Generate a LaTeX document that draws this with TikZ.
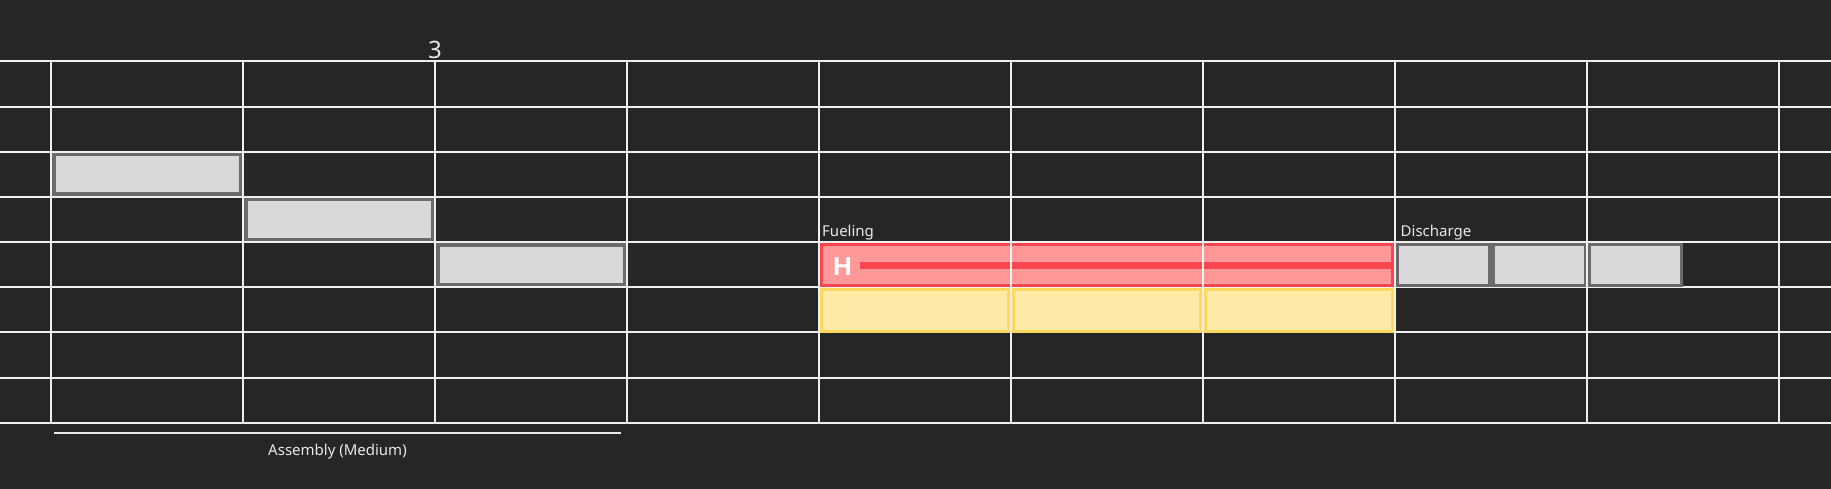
\documentclass[tikz,border=0pt]{standalone}
\usepackage{fontspec}
\setmainfont{Noto Sans}
\newfontfamily\markfont{Liberation Sans}
\usepackage{tikz}
\usetikzlibrary{positioning}
\definecolor{chartbg}{HTML}{262626}
\definecolor{gridwhite}{HTML}{F0F0F0}
\definecolor{blockgray}{HTML}{D9D9D9}
\definecolor{blockedge}{HTML}{6B6B6B}
\definecolor{fuelred}{HTML}{FF9999}
\definecolor{fueledge}{HTML}{F7464E}
\definecolor{coolfill}{HTML}{FFEAA7}
\definecolor{cooledge}{HTML}{FFD95E}
\definecolor{labeltext}{HTML}{E8E8E8}

\begin{document}
\begin{tikzpicture}[x=1pt, y=-1pt,
    gridline/.style={line width=2pt, draw=gridwhite},
    opblock/.style={draw=blockedge, fill=blockgray, line width=3.5pt},
    fuelbar/.style={draw=fueledge, fill=fuelred, line width=3pt},
    coolcell/.style={draw=cooledge, fill=coolfill, line width=3pt},
    phaselabel/.style={font=\fontsize{15}{18}\selectfont, text=labeltext, inner sep=0pt, anchor=base west}
]

\fill[chartbg] (0,0) rectangle (1831,489);
\useasboundingbox (0,0) rectangle (1831,489);

% rows
\foreach \j in {0,...,8}
    \draw[gridline] (0,{61.5+45.15*\j}) -- (1831,{61.5+45.15*\j});

% assembly steps
\foreach \i in {0,1,2}
    \draw[opblock] ({51+192*\i+2.75},{151.8+45.15*\i+2.75}) rectangle ({243+192*\i-2.75},{196.95+45.15*\i-2.75});

% fueling bar
\draw[fuelbar] (821.1,244.2) rectangle (1392.4,285.8);
\draw[line width=7pt, draw=fueledge] (860,265.7) -- (1392.4,265.7);
\foreach \i in {4,5,6}
    \draw[coolcell] ({51+192*\i+2.3},289.5) rectangle ({243+192*\i-2.6},331.2);

% discharge steps
\foreach \i in {0,1,2}
    \draw[opblock] ({1395+96*\i+1.75},244.4) rectangle ({1395+96*(\i+1)-1.75},285.6);

% columns
\foreach \i in {0,...,9}
    \draw[gridline] ({51+192*\i},61.5) -- ({51+192*\i},422.7);

\node[font=\fontsize{24}{28}\selectfont, text=labeltext, inner sep=0pt, anchor=base] (daynum) at (435,59) {3};
\node[phaselabel] (fueling) at (822,236.5) {Fueling};
\node[phaselabel] (discharge) at (1400.5,236.5) {Discharge};
\node[font=\markfont\bfseries\fontsize{26}{30}\selectfont, text=white, inner sep=0pt, anchor=base west] (hmark) at (833,275) {H};

\draw[line width=1.3pt, draw=labeltext] (54,433) coordinate (spanstart) -- (621,433) coordinate (spanend);
\node[phaselabel, anchor=base] (assembly) at (337.5,455) {Assembly (Medium)};

\end{tikzpicture}
\end{document}
